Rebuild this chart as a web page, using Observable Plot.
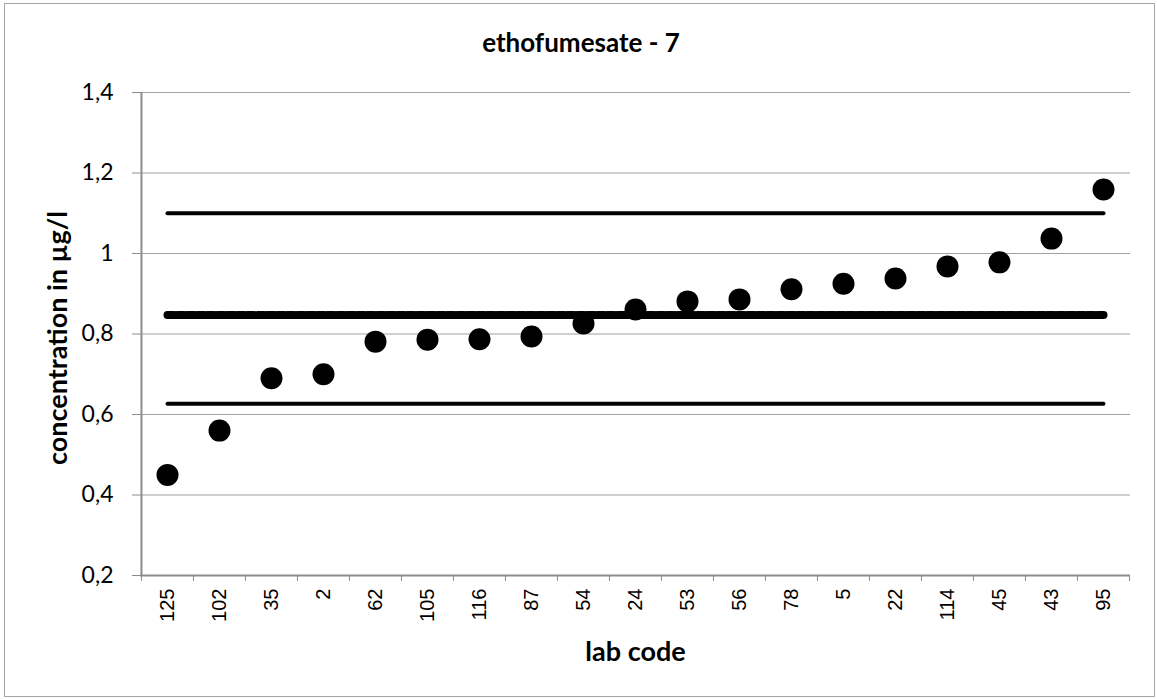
<!DOCTYPE html>
<html>
<head>
<meta charset="utf-8">
<script src="https://cdn.jsdelivr.net/npm/d3@7"></script>
<script src="https://cdn.jsdelivr.net/npm/@observablehq/plot@0.6"></script>
<style>
  html, body { margin: 0; padding: 0; background: #fff; }
  #wrap { position: relative; width: 1157px; height: 699px; }
  #border { position: absolute; left: 4px; top: 3px; width: 1151px; height: 694px; border: 1px solid #a6a6a6; box-sizing: border-box; pointer-events: none; }
</style>
</head>
<body>
<div id="wrap"><div id="border"></div></div>
<script>
const title = "ethofumesate - 7";
const xTitle = "lab code";
const yTitle = "concentration in µg/l";
const labs = ["125","102","35","2","62","105","116","87","54","24","53","56","78","5","22","114","45","43","95"];
const values = [0.45,0.56,0.69,0.70,0.781,0.786,0.787,0.794,0.826,0.861,0.881,0.886,0.911,0.925,0.938,0.968,0.978,1.037,1.159];
const assignedValue = 0.847;
const upperLimit = 1.1;
const lowerLimit = 0.627;
const yTicks = [0.2,0.4,0.6,0.8,1.0,1.2,1.4];

const data = labs.map((lab, i) => ({lab, v: values[i]}));
const hline = (v) => labs.map(lab => ({lab, v}));

const W = 1157, H = 699, mL = 140, mR = 27, mT = 92, mB = 124;
const step = (W - mL - mR) / labs.length;
const fontMain = "Lato, 'Open Sans', sans-serif";
const axisGray = "#8c8c8c";

const chart = Plot.plot({
  width: W, height: H,
  marginLeft: mL, marginRight: mR, marginTop: mT, marginBottom: mB,
  style: {background: "transparent", fontFamily: fontMain},
  x: {type: "point", domain: labs, padding: 0.5, label: null},
  y: {domain: [0.2, 1.4], label: null},
  marks: [
    Plot.gridY(yTicks, {stroke: "#a0a0a0", strokeOpacity: 1, strokeWidth: 1}),
    Plot.axisY(yTicks, {tickSize: 8, tickPadding: 19, stroke: axisGray, fontSize: 23, fill: "#000",
      tickFormat: d => String(+d.toFixed(1)).replace(".", ","), label: null}),
    Plot.axisX({tickSize: 0, tickPadding: 13, tickRotate: -90, fontSize: 20, fill: "#000",
      fontFamily: "'Liberation Sans', Arial, sans-serif", label: null}),
    Plot.axisX({tickSize: 6, tickFormat: null, dx: -step / 2, stroke: axisGray, label: null}),
    Plot.axisX([labs[labs.length - 1]], {tickSize: 6, tickFormat: null, dx: step / 2, stroke: axisGray, label: null}),
    Plot.ruleY([0.2], {stroke: axisGray, strokeWidth: 2}),
    Plot.ruleX([labs[0]], {dx: -step / 2, y1: 0.2, y2: 1.4, stroke: axisGray, strokeWidth: 2}),
    Plot.lineY(hline(upperLimit), {x: "lab", y: "v", stroke: "#000", strokeWidth: 4, strokeLinecap: "round"}),
    Plot.lineY(hline(lowerLimit), {x: "lab", y: "v", stroke: "#000", strokeWidth: 4, strokeLinecap: "round"}),
    Plot.lineY(hline(assignedValue), {x: "lab", y: "v", stroke: "#000", strokeWidth: 8, strokeDasharray: "6.5,3.5"}),
    Plot.lineY(hline(assignedValue), {x: "lab", y: "v", stroke: "#000", strokeWidth: 2, strokeLinecap: "round"}),
    Plot.dot(data, {x: "lab", y: "v", r: 11, fill: "#000", stroke: "none"}),
    Plot.text([title], {frameAnchor: "top", dx: (mR - mL) / 2 + 2, dy: -49, lineAnchor: "middle", text: d => d,
      fontSize: 26, fontWeight: "bold", fill: "#000"}),
    Plot.text([xTitle], {frameAnchor: "bottom", dy: 77, lineAnchor: "middle", text: d => d,
      fontSize: 27, fontWeight: "bold", fill: "#000"}),
    Plot.text([yTitle], {frameAnchor: "left", dx: -82, dy: 4, rotate: -90, textAnchor: "middle", lineAnchor: "middle",
      text: d => d, fontSize: 27, fontWeight: "bold", fill: "#000"})
  ]
});
document.getElementById("wrap").appendChild(chart);
chart.style.position = "absolute";
chart.style.left = "0";
chart.style.top = "0";
</script>
</body>
</html>
